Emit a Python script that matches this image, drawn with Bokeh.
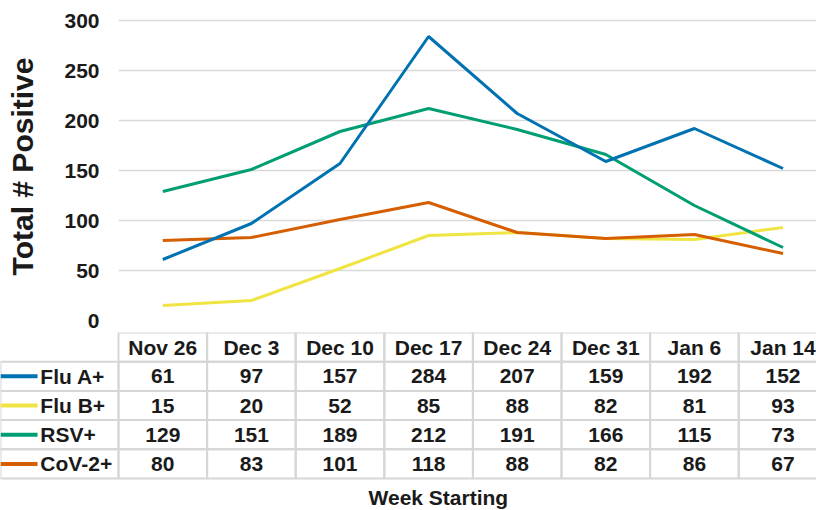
from bokeh.plotting import figure
from bokeh.layouts import column
from bokeh.models import Range1d, FixedTicker, ColumnDataSource, Label
from bokeh.embed import file_html
from bokeh.resources import INLINE

weeks = ["Nov 26", "Dec 3", "Dec 10", "Dec 17", "Dec 24", "Dec 31", "Jan 6", "Jan 14"]
flu_a = [61, 97, 157, 284, 207, 159, 192, 152]
flu_b = [15, 20, 52, 85, 88, 82, 81, 93]
rsv = [129, 151, 189, 212, 191, 166, 115, 73]
cov2 = [80, 83, 101, 118, 88, 82, 86, 67]
series_names = ["Flu A+", "Flu B+", "RSV+", "CoV-2+"]
series_values = [flu_a, flu_b, rsv, cov2]
colors = ["#0072B2", "#F0E442", "#009E73", "#D55E00"]
y_ticks = [0, 50, 100, 150, 200, 250, 300]
grid_ticks = [50, 100, 150, 200, 250, 300]

FONT = "Liberation Sans"
W = 816
COL_PX = 88.6
LEFT_PX = 118
HEADER_W = LEFT_PX / COL_PX      # width of row-header column, in column units
X_END = (W - LEFT_PX) / COL_PX

xs = [i + 0.5 for i in range(len(weeks))]

# ---------- line chart ----------
CH = 332
p = figure(width=W, height=CH, x_range=Range1d(0, X_END), y_range=Range1d(-12, 320),
           output_backend="svg", toolbar_location=None,
           min_border_left=LEFT_PX, min_border_right=0, min_border_top=0, min_border_bottom=0)
p.frame_align = False
p.xaxis.visible = False
p.xgrid.visible = False
p.outline_line_color = None
p.ygrid.ticker = FixedTicker(ticks=grid_ticks)
p.ygrid.grid_line_color = "#d9d9d9"
p.ygrid.grid_line_width = 1.5
p.yaxis.ticker = FixedTicker(ticks=y_ticks)
p.yaxis.axis_line_color = None
p.yaxis.major_tick_line_color = None
p.yaxis.minor_tick_line_color = None
p.yaxis.major_label_standoff = 13
p.yaxis.major_label_text_font = FONT
p.yaxis.major_label_text_font_style = "bold"
p.yaxis.major_label_text_font_size = "21px"
p.yaxis.major_label_text_color = "#1a1a1a"
p.yaxis.axis_label = "Total # Positive"
p.yaxis.axis_label_text_font = FONT
p.yaxis.axis_label_text_font_style = "bold"
p.yaxis.axis_label_text_font_size = "30px"
p.yaxis.axis_label_text_color = "#1a1a1a"
p.yaxis.axis_label_standoff = 22

for idx in [1, 3, 2, 0]:
    p.line(xs, series_values[idx], line_color=colors[idx], line_width=3)

# ---------- data table ----------
ROW_H = 29.2
t_h = 510 - CH
top_y = -0.5
t = figure(width=W, height=t_h, x_range=Range1d(-HEADER_W, X_END),
           y_range=Range1d(top_y + t_h / ROW_H, top_y),
           output_backend="svg", toolbar_location=None, min_border=0)
t.frame_align = False
t.axis.visible = False
t.grid.visible = False
t.outline_line_color = None

hdr = ColumnDataSource(dict(x=xs, y=[0] * len(weeks), text=weeks))
cx, cy, ct = [], [], []
for r, vals in enumerate(series_values, start=1):
    for i, v in enumerate(vals):
        cx.append(xs[i]); cy.append(r); ct.append(str(v))
cells = ColumnDataSource(dict(x=cx, y=cy, text=ct))
rows = list(range(1, len(series_names) + 1))
rowsrc = ColumnDataSource(dict(y=rows, name=series_names, color=colors,
                               xc=[-HEADER_W / 2] * len(rows),
                               x0=[-HEADER_W] * len(rows),
                               x1=[-HEADER_W + 0.418] * len(rows),
                               xt=[-HEADER_W + 0.45] * len(rows)))

grid_col = "#d6d6d6"
t.rect("x", "y", width=1, height=1, source=hdr, fill_color=None, line_color=grid_col, line_width=2)
t.rect("x", "y", width=1, height=1, source=cells, fill_color=None, line_color=grid_col, line_width=2)
t.rect("xc", "y", width=HEADER_W, height=1, source=rowsrc, fill_color=None, line_color=grid_col, line_width=2)

text_kw = dict(text_font={"value": FONT}, text_font_style="bold", text_font_size="21px",
               text_color="#1a1a1a", text_baseline="middle")
t.text("x", "y", text="text", source=hdr, text_align="center", **text_kw)
t.text("x", "y", text="text", source=cells, text_align="center", **text_kw)
t.segment(x0="x0", y0="y", x1="x1", y1="y", source=rowsrc, line_color="color", line_width=4)
t.text("xt", "y", text="name", source=rowsrc, text_align="left", **text_kw)

t.add_layout(Label(x=3.61, y=5.15, text="Week Starting", text_align="center", text_baseline="middle",
                   text_font=FONT, text_font_style="bold", text_font_size="21px", text_color="#1a1a1a"))

layout = column(p, t, spacing=0)
open("out.html", "w").write(file_html(layout, INLINE))
